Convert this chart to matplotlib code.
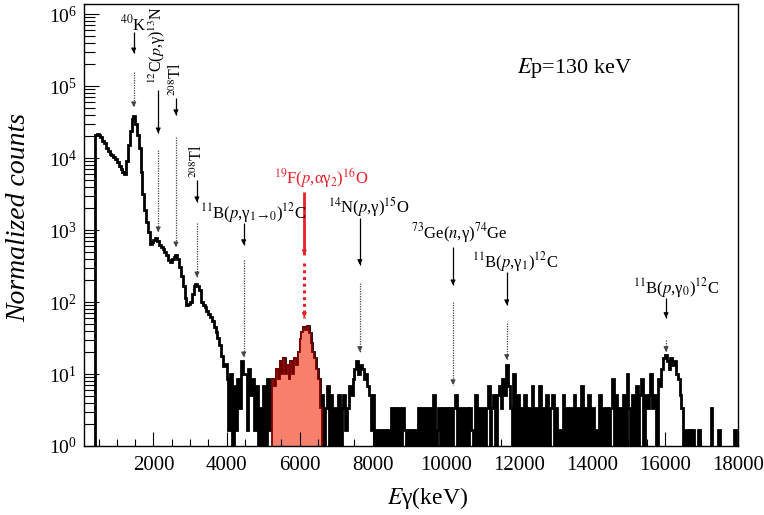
import numpy as np
import matplotlib
matplotlib.use('Agg')
import matplotlib.pyplot as plt
from matplotlib.ticker import MultipleLocator, FixedLocator, LogLocator, NullFormatter

plt.rcParams['font.family'] = 'Liberation Serif'
plt.rcParams['mathtext.fontset'] = 'stix'

# --- data ---
bin_w = 50
E_start = 400            # first non-empty bin (keV)
norm = 1.68              # normalized value of one count

# normalized counts, 400-4000 keV in 50 keV bins
low_vals = [21000, 21500, 21000, 19500, 17500, 16000, 14000, 12500, 11500, 11000,
            10500, 9800, 8800, 7800, 7000, 6500, 6100, 9000, 15000, 24000,
            35000, 39000, 30000, 21000, 14000, 6500, 3200, 1900, 1300, 950,
            640, 680, 720, 770, 700, 620, 580, 540, 500, 450,
            390, 365, 400, 420, 450, 400, 310, 230, 165, 115,
            90, 95, 100, 130, 165, 181, 165, 145, 100, 92,
            86, 75, 68, 62, 55, 45, 38, 32, 25, 18,
            13, 14]

# raw counts, 4000-18000 keV in 50 keV bins
high_counts = [5, 1, 6, 0, 4, 1, 5, 2, 9, 6,
               6, 1, 7, 3, 5, 1, 4, 0, 2, 0,
               4, 0, 5, 1, 4, 5, 4, 7, 5, 9,
               6, 10, 6, 8, 5, 9, 6, 10, 8, 12,
               18, 23, 27, 24, 28, 22, 16, 12, 10, 7,
               5, 2, 3, 0, 2, 4, 0, 3, 0, 2,
               0, 3, 0, 2, 3, 1, 2, 4, 3, 5,
               7, 9, 6, 8, 7, 5, 6, 4, 3, 1,
               3, 0, 1, 0, 1, 0, 1, 0, 1, 0,
               2, 0, 2, 0, 2, 0, 2, 1, 0, 1,
               0, 1, 0, 1, 0, 2, 0, 2, 0, 2,
               0, 2, 0, 3, 0, 1, 2, 0, 2, 0,
               2, 0, 2, 0, 2, 3, 0, 2, 0, 2,
               0, 2, 0, 2, 1, 0, 3, 0, 2, 0,
               2, 0, 2, 4, 0, 2, 3, 0, 3, 4,
               2, 5, 3, 8, 4, 2, 0, 6, 0, 3,
               0, 2, 0, 3, 0, 2, 0, 4, 0, 2,
               0, 4, 0, 2, 0, 3, 0, 2, 3, 0,
               2, 0, 1, 0, 3, 0, 2, 0, 2, 0,
               3, 0, 2, 0, 4, 0, 2, 0, 3, 0,
               2, 0, 1, 0, 3, 0, 2, 0, 2, 0,
               2, 5, 0, 3, 0, 2, 0, 3, 0, 6,
               2, 0, 3, 0, 4, 0, 3, 5, 0, 3,
               2, 3, 6, 2, 3, 0, 5, 4, 7, 10,
               11, 9, 7, 10, 8, 9, 6, 5, 3, 2,
               0, 1, 0, 1, 0, 1, 0, 0, 1, 0,
               0, 0, 0, 0, 0, 2, 0, 0, 0, 1,
               0, 0, 0, 0, 0, 0, 0, 0, 1, 0]

# 19F(p,ag2)16O region of interest
roi_lo, roi_hi = 5250, 6600

# line annotations: energy, label, label pos, arrows (y in axes fraction)
line_E   = [1460, 2130, 2614, 3190, 4470, 6130, 7650, 10200, 11670, 16030]
labels   = [r'$^{40}$K', r'$^{12}$C($p$,γ)$^{13}$N', r'$^{208}$Tl', r'$^{208}$Tl',
            r'$^{11}$B($p$,γ$_{1\to0}$)$^{12}$C', r'$^{19}$F($p$,αγ$_2$)$^{16}$O',
            r'$^{14}$N($p$,γ)$^{15}$O', r'$^{73}$Ge($n$,γ)$^{74}$Ge',
            r'$^{11}$B($p$,γ$_1$)$^{12}$C', r'$^{11}$B($p$,γ$_0$)$^{12}$C']
label_E  = [1460, 2110, 2640, 3200, 4720, 6600, 7900, 10360, 11890, 16300]
label_y  = [0.955, 0.907, 0.830, 0.645, 0.527, 0.606, 0.541, 0.482, 0.416, 0.357]
label_rot = [0, 90, 90, 90, 0, 0, 0, 0, 0, 0]
label_fs = [12, 11.5, 11.5, 11.5, 12, 12, 12, 12, 12, 12]
solid_y  = [(0.937, 0.889), (0.805, 0.708), (0.787, 0.749), (0.602, 0.552), (0.505, 0.455),
            (0.575, 0.432), (0.516, 0.410), (0.450, 0.364), (0.394, 0.319), (0.335, 0.290)]
dot_y    = [(0.846, 0.767), (0.670, 0.484), (0.699, 0.450), (0.505, 0.382), (0.421, 0.201),
            (0.414, 0.290), (0.369, 0.213), (0.326, 0.138), (0.278, 0.195), (0.240, 0.213)]
highlight = 5   # index of the red one

x_ticks = [2000, 4000, 6000, 8000, 10000, 12000, 14000, 16000, 18000]
y_ticks = [1, 10, 100, 1000, 1e4, 1e5, 1e6]

# --- build histogram ---
vals = np.array(low_vals + [c * norm for c in high_counts], dtype=float)
edges = E_start + bin_w * np.arange(len(vals) + 1)
shown = np.where(vals > 0, vals, 1e-2)   # empty bins drop below the axis

fig = plt.figure(figsize=(7.64, 5.15), dpi=100)
ax = fig.add_axes([0.110, 0.134, 0.856, 0.858])

ax.stairs(shown, edges, color='k', lw=2.0, baseline=1e-2)

roi = (edges[:-1] >= roi_lo) & (edges[:-1] < roi_hi)
roi_edges = np.append(edges[:-1][roi], edges[:-1][roi][-1] + bin_w)
ax.stairs(shown[roi], roi_edges, fill=True, color='#f7806c', baseline=1e-2)
ax.stairs(shown[roi], roi_edges, color='#7a0000', lw=1.3, baseline=1e-2)

ax.set_yscale('log')
ax.set_xlim(100, 18000)
ax.set_ylim(1, 1.38e6)

trans = ax.get_xaxis_transform()
red = '#e8202a'
for i, E in enumerate(line_E):
    c = red if i == highlight else 'k'
    lw_s = 2.0 if i == highlight else 0.9
    lw_d = 2.2 if i == highlight else 0.9
    ls_d = (0, (1, 1.2)) if i == highlight else (0, (1, 1))
    dc = red if i == highlight else '#444444'
    ax.plot([E, E], solid_y[i], color=c, lw=lw_s, transform=trans, solid_capstyle='butt')
    ax.annotate('', xy=(E, solid_y[i][1]), xytext=(E, solid_y[i][1] + 0.01),
                xycoords=trans, textcoords=trans,
                arrowprops=dict(arrowstyle='-|>', color=c, lw=0.8,
                                mutation_scale=7, shrinkA=0, shrinkB=0))
    ax.plot([E, E], dot_y[i], color=dc, lw=lw_d, ls=ls_d, transform=trans)
    ax.annotate('', xy=(E, dot_y[i][1]), xytext=(E, dot_y[i][1] + 0.01),
                xycoords=trans, textcoords=trans,
                arrowprops=dict(arrowstyle='-|>', color=dc, lw=0.8,
                                mutation_scale=7, shrinkA=0, shrinkB=0))
    ax.text(label_E[i], label_y[i], labels[i], transform=trans, color=c,
            fontsize=label_fs[i], rotation=label_rot[i], ha='center', va='center')

ax.text(0.75, 0.855, r'$E$p=130 keV', transform=ax.transAxes, fontsize=16,
        ha='center', va='center')

# axes styling
ax.xaxis.set_major_locator(FixedLocator(x_ticks))
ax.xaxis.set_minor_locator(MultipleLocator(500))
ax.yaxis.set_major_locator(FixedLocator(y_ticks))
ax.yaxis.set_minor_locator(LogLocator(base=10, subs=np.arange(2, 10), numticks=20))
ax.yaxis.set_minor_formatter(NullFormatter())
ax.tick_params(axis='both', which='both', direction='in', top=False, right=False)
ax.tick_params(axis='x', which='major', length=10, width=0.8, labelsize=15, pad=7)
ax.tick_params(axis='x', which='minor', length=5, width=0.8)
ax.tick_params(axis='y', which='major', length=11, width=0.8, labelsize=14, pad=5)
ax.tick_params(axis='y', which='minor', length=8, width=0.8)
for s in ax.spines.values():
    s.set_linewidth(1.0)

fig.text(0.559, 0.033, r'$E$γ(keV)', fontsize=17, ha='center', va='center')
fig.text(0.024, 0.578, 'Normalized counts', fontsize=20, style='italic',
         rotation=90, ha='center', va='center')

fig.savefig('out.png', dpi=100)
